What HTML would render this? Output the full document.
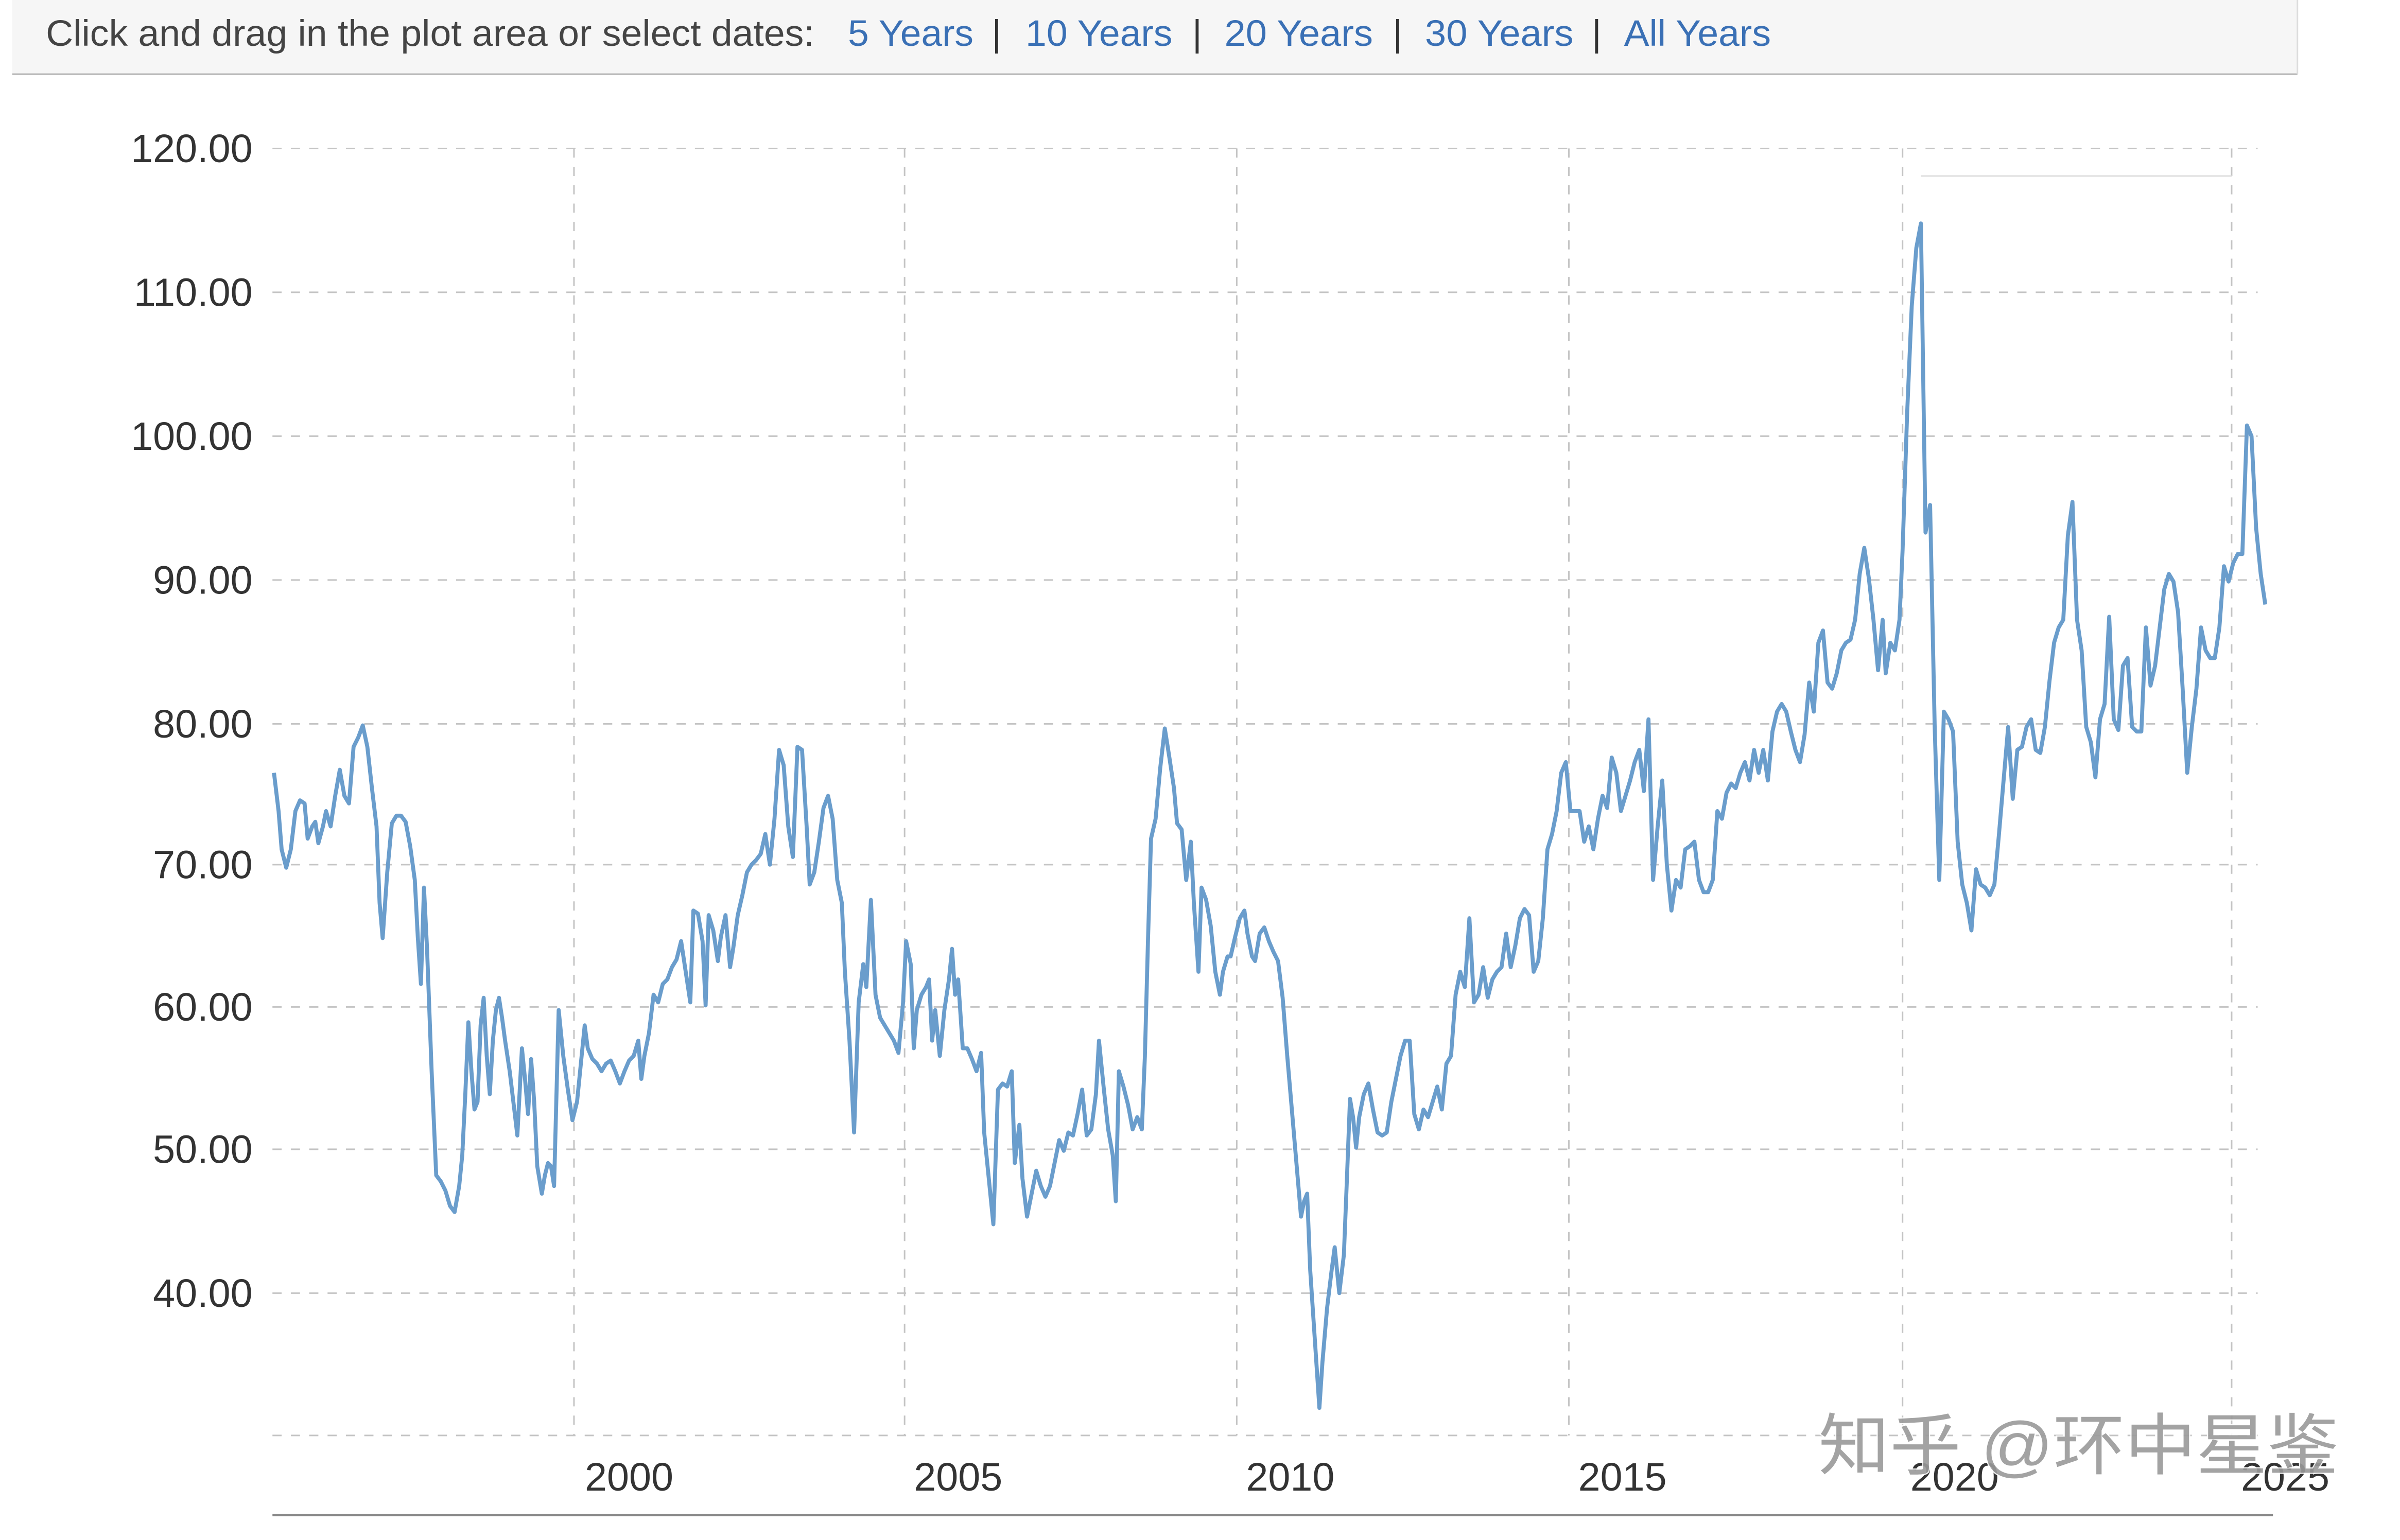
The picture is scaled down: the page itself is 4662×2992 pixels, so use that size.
<!DOCTYPE html>
<html><head><meta charset="utf-8"><style>
html,body{margin:0;padding:0;background:#fff;width:4662px;height:2992px;overflow:hidden}
svg{display:block}
</style></head><body>
<svg width="4662" height="2992" viewBox="0 0 1568 1006.3" xmlns="http://www.w3.org/2000/svg">
<rect x="0" y="0" width="1568" height="1006.3" fill="#fff"/>
<rect x="8" y="0" width="1493" height="48" fill="#f6f6f6"/>
<line x1="8" y1="48.5" x2="1501" y2="48.5" stroke="#bbb" stroke-width="1.2"/>
<line x1="1501" y1="0" x2="1501" y2="48.5" stroke="#ddd" stroke-width="1"/>
<g font-family="Liberation Sans, Arial, sans-serif" font-size="24">
<text x="30" y="30" fill="#444" textLength="502" lengthAdjust="spacingAndGlyphs">Click and drag in the plot area or select dates:</text>
<text x="554" y="30" fill="#3a70b5" textLength="82" lengthAdjust="spacingAndGlyphs">5 Years</text>
<text x="648" y="30" fill="#333">|</text>
<text x="670" y="30" fill="#3a70b5" textLength="96" lengthAdjust="spacingAndGlyphs">10 Years</text>
<text x="779" y="30" fill="#333">|</text>
<text x="800" y="30" fill="#3a70b5" textLength="97" lengthAdjust="spacingAndGlyphs">20 Years</text>
<text x="910" y="30" fill="#333">|</text>
<text x="931" y="30" fill="#3a70b5" textLength="97" lengthAdjust="spacingAndGlyphs">30 Years</text>
<text x="1040" y="30" fill="#333">|</text>
<text x="1061" y="30" fill="#3a70b5" textLength="96" lengthAdjust="spacingAndGlyphs">All Years</text>
</g>
<g stroke="#c4c4c4" stroke-width="1" stroke-dasharray="6,6" fill="none">
<line x1="178" y1="97" x2="1475" y2="97"/>
<line x1="178" y1="191" x2="1475" y2="191"/>
<line x1="178" y1="285" x2="1475" y2="285"/>
<line x1="178" y1="379" x2="1475" y2="379"/>
<line x1="178" y1="473" x2="1475" y2="473"/>
<line x1="178" y1="565" x2="1475" y2="565"/>
<line x1="178" y1="658" x2="1475" y2="658"/>
<line x1="178" y1="751" x2="1475" y2="751"/>
<line x1="178" y1="845" x2="1475" y2="845"/>
<line x1="178" y1="938" x2="1475" y2="938"/>
<line x1="375" y1="97" x2="375" y2="938"/>
<line x1="591" y1="97" x2="591" y2="938"/>
<line x1="808" y1="97" x2="808" y2="938"/>
<line x1="1025" y1="97" x2="1025" y2="938"/>
<line x1="1243" y1="97" x2="1243" y2="938"/>
<line x1="1458" y1="97" x2="1458" y2="938"/>
</g>
<line x1="1255" y1="115" x2="1458" y2="115" stroke="#ddd" stroke-width="1"/>
<line x1="178" y1="990" x2="1485" y2="990" stroke="#888" stroke-width="1.5"/>
<g font-family="Liberation Sans, Arial, sans-serif" font-size="26" fill="#333" text-anchor="end">
<text x="165" y="106">120.00</text>
<text x="165" y="200">110.00</text>
<text x="165" y="294">100.00</text>
<text x="165" y="388">90.00</text>
<text x="165" y="482">80.00</text>
<text x="165" y="574">70.00</text>
<text x="165" y="667">60.00</text>
<text x="165" y="760">50.00</text>
<text x="165" y="854">40.00</text>
</g>
<g font-family="Liberation Sans, Arial, sans-serif" font-size="26" fill="#333" text-anchor="middle">
<text x="411" y="974">2000</text>
<text x="626" y="974">2005</text>
<text x="843" y="974">2010</text>
<text x="1060" y="974">2015</text>
<text x="1277" y="974">2020</text>
<text x="1493" y="974">2025</text>
</g>
<polyline fill="none" stroke="#6a9dcc" stroke-width="2.6" stroke-linejoin="round" points="179,505 182,530 184,555 187,567 190,555 193,530 196,523 199,525 201,548 204,540 206,537 208,551 211,540 213,530 216,540 219,520 222,503 225,520 228,525 231,488 234,482 237,474 240,488 243,515 246,540 248,590 250,613 253,570 256,538 259,533 262,533 265,537 268,553 271,575 273,613 275,643 277,580 279,620 282,700 285,768 288,772 291,778 294,788 297,792 300,775 302,755 304,715 306,668 308,700 310,725 312,720 314,670 316,652 318,690 320,715 322,680 324,660 326,652 328,665 330,680 333,700 336,725 338,742 341,685 343,705 345,728 347,692 349,720 351,762 354,780 356,768 358,760 360,762 362,775 365,660 368,690 371,712 374,732 377,720 380,690 382,670 384,685 387,692 390,695 393,700 396,695 399,693 402,700 405,708 408,700 411,693 414,690 417,680 419,705 421,690 424,675 427,650 430,655 433,643 436,640 439,632 442,627 445,615 448,635 451,655 453,595 456,597 459,615 461,657 463,598 466,608 469,628 471,612 474,598 477,632 479,620 482,598 485,585 488,570 491,565 494,562 497,558 500,545 503,565 506,535 509,490 512,500 515,540 518,560 521,488 524,490 527,540 529,578 532,570 535,550 538,528 541,520 544,535 547,575 550,590 552,635 555,680 558,740 561,655 564,630 566,645 569,588 572,650 575,665 578,670 581,675 584,680 587,688 590,655 592,615 595,630 597,685 599,660 602,650 605,645 607,640 609,680 611,660 614,690 617,660 620,640 622,620 624,650 626,640 629,685 632,685 635,692 638,700 641,688 643,740 646,770 649,800 652,712 655,708 658,710 661,700 663,760 666,735 668,770 671,795 674,780 677,765 680,775 683,782 686,775 689,760 692,745 695,752 698,740 701,742 704,728 707,712 710,742 713,738 716,715 718,680 721,710 724,738 727,755 729,785 731,700 734,710 737,722 740,738 743,730 746,738 748,690 750,615 752,548 755,535 758,502 761,476 764,495 767,515 769,538 772,542 775,575 778,550 780,590 783,635 785,580 788,588 791,605 794,635 797,650 799,635 802,625 804,625 807,612 810,600 813,595 815,610 818,625 820,628 823,610 826,606 829,615 832,622 835,628 838,652 841,690 844,725 847,760 850,795 852,785 854,780 856,830 858,860 862,920 864,890 867,855 870,830 872,815 875,845 878,820 880,770 882,718 884,730 886,750 888,730 891,715 894,708 897,725 900,740 903,742 906,740 909,720 912,705 915,690 918,680 921,680 924,728 927,738 930,725 933,730 936,720 939,710 942,725 945,695 948,690 951,650 954,635 957,645 960,600 963,655 966,650 969,632 972,652 975,640 978,635 981,632 984,610 987,632 990,618 993,600 996,594 999,598 1002,635 1005,628 1008,600 1011,555 1014,545 1017,530 1020,505 1023,498 1026,530 1029,530 1032,530 1035,550 1038,540 1041,555 1044,535 1047,520 1050,528 1053,495 1056,505 1059,530 1062,520 1065,510 1068,498 1071,490 1074,517 1077,470 1080,575 1083,540 1086,510 1089,565 1092,595 1095,575 1098,580 1101,555 1104,553 1107,550 1110,575 1113,583 1116,583 1119,575 1122,530 1125,535 1128,518 1131,512 1134,515 1137,505 1140,498 1143,510 1146,490 1149,505 1152,490 1155,510 1158,478 1161,465 1164,460 1167,465 1170,478 1173,490 1176,498 1179,480 1182,446 1185,465 1188,420 1191,412 1194,446 1197,450 1200,440 1203,425 1206,420 1209,418 1212,405 1215,375 1218,358 1221,378 1224,405 1227,438 1230,405 1232,440 1235,420 1238,425 1241,405 1243,360 1246,270 1249,200 1252,162 1255,146 1258,348 1261,330 1264,475 1267,575 1270,465 1273,470 1276,478 1279,550 1282,578 1285,590 1288,608 1291,568 1294,578 1297,580 1300,585 1303,578 1306,545 1309,510 1312,475 1315,522 1318,490 1321,488 1324,475 1327,470 1330,490 1333,492 1336,475 1339,445 1342,420 1345,410 1348,405 1351,350 1354,328 1357,405 1360,425 1363,475 1366,485 1369,508 1372,470 1375,460 1378,403 1381,470 1384,477 1387,435 1390,430 1393,475 1396,478 1399,478 1402,410 1405,448 1408,435 1411,410 1414,385 1417,375 1420,380 1423,400 1426,450 1429,505 1432,475 1435,450 1438,410 1441,425 1444,430 1447,430 1450,410 1453,370 1456,380 1459,368 1462,362 1465,362 1468,278 1471,285 1474,345 1477,375 1480,395"/>
<text x="1188" y="960" font-family="Liberation Sans, Noto Sans CJK SC, sans-serif" font-size="44" fill="#9a9a9a" stroke="#fff" stroke-width="1.5" paint-order="stroke" opacity="0.9" textLength="340" lengthAdjust="spacingAndGlyphs">知乎 @环中星鉴</text>
</svg>
</body></html>
